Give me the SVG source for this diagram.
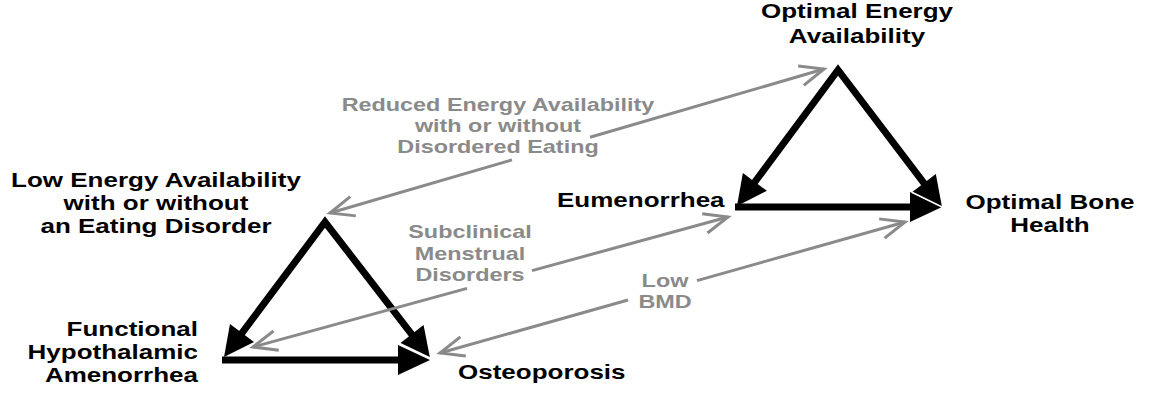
<svg xmlns="http://www.w3.org/2000/svg" width="1154" height="394" viewBox="0 0 1154 394">
<style>
.blk{font-family:"Liberation Sans",Arial,sans-serif;font-weight:bold;font-size:20px;fill:#000}
.gry{font-family:"Liberation Sans",Arial,sans-serif;font-weight:bold;font-size:18px;fill:#8a8a8a}
.mid{text-anchor:middle}
.end{text-anchor:end}
.thick{fill:none;stroke:#000;stroke-width:7;stroke-linejoin:miter;stroke-miterlimit:10}
.thin{fill:none;stroke:#8a8a8a;stroke-width:3}
</style>
<defs>
<marker id="hs" markerUnits="userSpaceOnUse" overflow="visible" orient="auto-start-reverse" markerWidth="1" markerHeight="1" refX="0" refY="0">
<path d="M-2,-15 L28,0 L-2,15 Z" fill="#000"/>
</marker>
<marker id="he" markerUnits="userSpaceOnUse" overflow="visible" orient="auto" markerWidth="1" markerHeight="1" refX="0" refY="0">
<path d="M-2,-15 L28,0 L-2,15 Z" fill="#000"/>
<path d="M-2,15 L28,0" stroke="#fff" stroke-width="1.6" fill="none"/>
</marker>
<marker id="hb" markerUnits="userSpaceOnUse" overflow="visible" orient="auto" markerWidth="1" markerHeight="1" refX="0" refY="0">
<path d="M-2,-15 L30,0 L-2,15 Z" fill="#000"/>
</marker>
<marker id="ho" markerUnits="userSpaceOnUse" overflow="visible" orient="auto-start-reverse" markerWidth="1" markerHeight="1" refX="0" refY="0">
<path d="M-24,-10 L0,0 L-24,10" fill="none" stroke="#8a8a8a" stroke-width="3" stroke-linejoin="miter"/>
</marker>
</defs>
<g id="connectors">
<path class="thick" d="M735,207 L912,207" marker-end="url(#hb)"/>
<path class="thick" d="M753.7,183.5 L838,70 L925.1,184.7" marker-start="url(#hs)" marker-end="url(#he)"/>
<path class="thick" d="M222,360 L400,360" marker-end="url(#hb)"/>
<path class="thick" d="M240.8,334.6 L325,222 L412.9,335.8" marker-start="url(#hs)" marker-end="url(#he)"/>
<path class="thin" d="M330,213 L512,159.9" marker-start="url(#ho)"/>
<path class="thin" d="M590,137.2 L824,69" marker-end="url(#ho)"/>
<path class="thin" d="M253,347 L467,288.4" marker-start="url(#ho)"/>
<path class="thin" d="M532,270.6 L728,217" marker-end="url(#ho)"/>
<path class="thin" d="M440,353 L628,300" marker-start="url(#ho)"/>
<path class="thin" d="M697,280.6 L905,222" marker-end="url(#ho)"/>
</g>
<g id="optimal-energy">
<text class="blk mid" transform="translate(857,18) scale(1.3,1)"><tspan x="0" y="0">Optimal Energy</tspan><tspan x="0" y="25">Availability</tspan></text>
</g>
<g id="low-energy">
<text class="blk mid" transform="translate(156,187) scale(1.3,1)"><tspan x="0" y="0">Low Energy Availability</tspan><tspan x="0" y="23">with or without</tspan><tspan x="0" y="46">an Eating Disorder</tspan></text>
</g>
<g id="eumenorrhea">
<text class="blk" transform="translate(557,207) scale(1.3,1)">Eumenorrhea</text>
</g>
<g id="optimal-bone">
<text class="blk mid" transform="translate(1050,209) scale(1.3,1)"><tspan x="0" y="0">Optimal Bone</tspan><tspan x="0" y="23">Health</tspan></text>
</g>
<g id="fha">
<text class="blk end" transform="translate(198,336) scale(1.3,1)"><tspan x="0" y="0">Functional</tspan><tspan x="0" y="23">Hypothalamic</tspan><tspan x="0" y="46">Amenorrhea</tspan></text>
</g>
<g id="osteoporosis">
<text class="blk" transform="translate(458,379) scale(1.3,1)">Osteoporosis</text>
</g>
<g id="label-reduced">
<text class="gry mid" transform="translate(498,111) scale(1.3,1)"><tspan x="0" y="0">Reduced Energy Availability</tspan><tspan x="0" y="21">with or without</tspan><tspan x="0" y="42">Disordered Eating</tspan></text>
</g>
<g id="label-subclinical">
<text class="gry mid" transform="translate(470,238) scale(1.3,1)"><tspan x="0" y="0">Subclinical</tspan><tspan x="0" y="22">Menstrual</tspan><tspan x="0" y="43">Disorders</tspan></text>
</g>
<g id="label-bmd">
<text class="gry mid" transform="translate(665,287) scale(1.3,1)"><tspan x="0" y="0">Low</tspan><tspan x="0" y="21">BMD</tspan></text>
</g>
</svg>
